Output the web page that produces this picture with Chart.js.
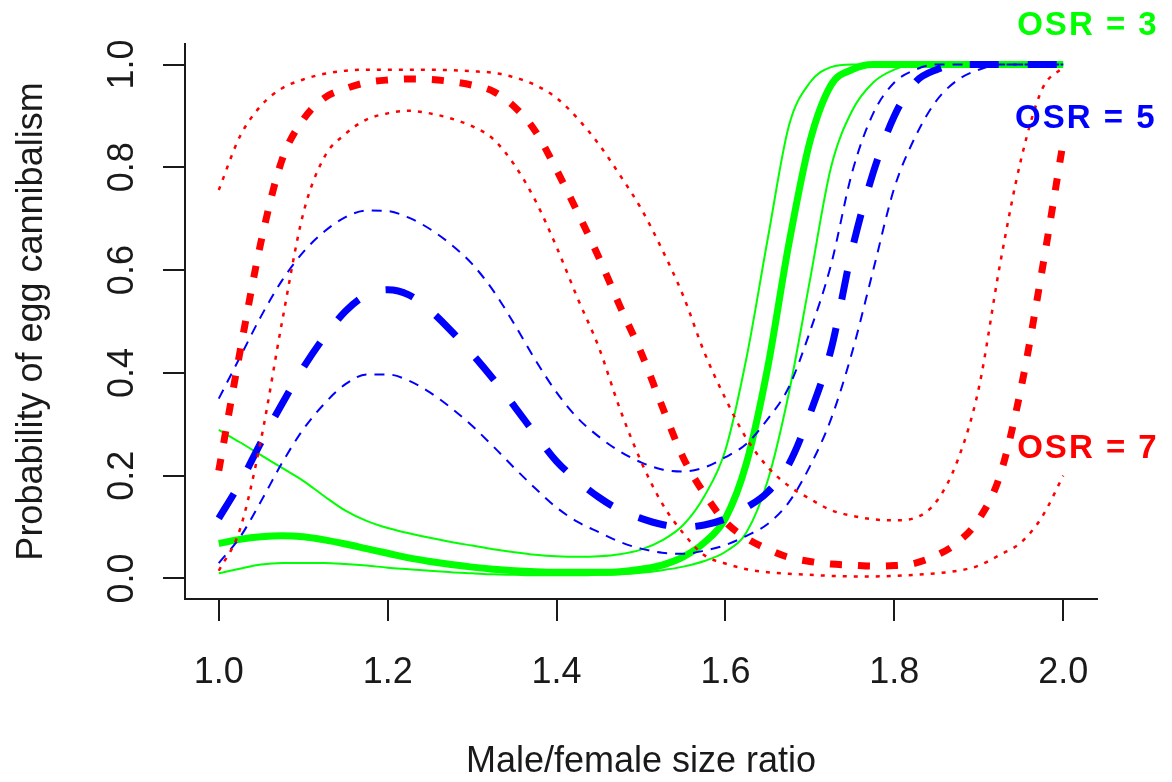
<!DOCTYPE html>
<html>
<head>
<meta charset="utf-8">
<script src="https://cdn.jsdelivr.net/npm/chart.js@4.4.1/dist/chart.umd.min.js"></script>
<style>
html,body{margin:0;padding:0;background:#ffffff;}
#wrap{width:1172px;height:782px;}
</style>
</head>
<body>
<div id="wrap"><canvas id="c" width="1172" height="782"></canvas></div>
<script>
// ---- data ----
const sizeRatio = [1.000,1.025,1.050,1.075,1.100,1.125,1.150,1.175,1.200,1.225,1.250,1.275,1.300,1.325,1.350,1.375,1.400,1.425,1.450,1.475,1.500,1.525,1.550,1.575,1.600,1.625,1.650,1.675,1.700,1.725,1.750,1.775,1.800,1.825,1.850,1.875,1.900,1.925,1.950,1.975,2.000];

// OSR = 3 (green): fitted mean and confidence limits
const osr3Mean  = [0.068,0.076,0.081,0.083,0.081,0.075,0.067,0.058,0.049,0.040,0.033,0.027,0.022,0.018,0.015,0.013,0.012,0.012,0.012,0.013,0.018,0.026,0.042,0.070,0.117,0.225,0.410,0.650,0.850,0.960,0.990,1.000,1.000,1.000,1.000,1.000,1.000,1.000,1.000,1.000,1.000];
const osr3Upper = [0.289,0.265,0.240,0.215,0.190,0.160,0.132,0.112,0.098,0.088,0.079,0.071,0.064,0.057,0.051,0.046,0.043,0.042,0.043,0.047,0.056,0.074,0.104,0.160,0.250,0.430,0.660,0.880,0.965,0.995,1.000,1.000,1.000,1.000,1.000,1.000,1.000,1.000,1.000,1.000,1.000];
const osr3Lower = [0.010,0.019,0.027,0.030,0.030,0.030,0.028,0.025,0.021,0.018,0.015,0.012,0.010,0.008,0.007,0.006,0.006,0.006,0.007,0.008,0.011,0.016,0.023,0.034,0.052,0.090,0.190,0.360,0.580,0.800,0.910,0.965,0.990,1.000,1.000,1.000,1.000,1.000,1.000,1.000,1.000];

// OSR = 5 (blue)
const osr5Mean  = [0.117,0.185,0.265,0.340,0.410,0.470,0.520,0.552,0.562,0.552,0.522,0.482,0.437,0.388,0.335,0.280,0.228,0.190,0.158,0.133,0.117,0.105,0.100,0.104,0.116,0.138,0.168,0.222,0.320,0.445,0.640,0.790,0.900,0.966,0.990,1.000,1.000,1.000,1.000,1.000,1.000];
const osr5Upper = [0.350,0.430,0.510,0.580,0.635,0.675,0.703,0.716,0.715,0.702,0.680,0.650,0.612,0.560,0.495,0.425,0.362,0.312,0.276,0.247,0.226,0.212,0.208,0.216,0.236,0.262,0.310,0.372,0.480,0.610,0.790,0.905,0.965,0.990,1.000,1.000,1.000,1.000,1.000,1.000,1.000];
const osr5Lower = [0.030,0.080,0.150,0.225,0.290,0.340,0.378,0.397,0.397,0.385,0.362,0.332,0.297,0.257,0.215,0.175,0.138,0.110,0.090,0.071,0.058,0.050,0.048,0.054,0.065,0.083,0.106,0.148,0.218,0.310,0.440,0.600,0.760,0.860,0.930,0.970,0.990,1.000,1.000,1.000,1.000];

// OSR = 7 (red)
const osr7Mean  = [0.210,0.440,0.655,0.815,0.893,0.935,0.953,0.965,0.970,0.972,0.971,0.967,0.960,0.948,0.918,0.870,0.795,0.712,0.625,0.530,0.440,0.335,0.235,0.165,0.110,0.078,0.057,0.041,0.033,0.028,0.026,0.024,0.025,0.030,0.045,0.070,0.115,0.200,0.370,0.600,0.850];
const osr7Upper = [0.756,0.860,0.920,0.954,0.971,0.982,0.988,0.990,0.990,0.990,0.990,0.989,0.987,0.984,0.975,0.960,0.935,0.895,0.845,0.785,0.720,0.640,0.550,0.440,0.350,0.272,0.217,0.180,0.155,0.133,0.122,0.115,0.113,0.118,0.150,0.230,0.370,0.610,0.815,0.952,0.995];
const osr7Lower = [0.015,0.095,0.270,0.500,0.710,0.820,0.865,0.893,0.905,0.910,0.905,0.895,0.880,0.855,0.805,0.735,0.645,0.545,0.450,0.330,0.228,0.146,0.088,0.045,0.029,0.018,0.012,0.009,0.007,0.005,0.004,0.004,0.005,0.007,0.010,0.015,0.025,0.046,0.070,0.120,0.200];

const xTickValues = [1.0,1.2,1.4,1.6,1.8,2.0];
const xTickLabels = ['1.0','1.2','1.4','1.6','1.8','2.0'];
const yTickValues = [0.0,0.2,0.4,0.6,0.8,1.0];
const yTickLabels = ['0.0','0.2','0.4','0.6','0.8','1.0'];
const osrLabels = ['OSR = 3','OSR = 5','OSR = 7'];

// ---- styles / layout ----
const GREEN = '#00ff00', BLUE = '#0000ff', RED = '#ff0000', INK = '#1a1a1a';
const FONT = '"Liberation Sans", Arial, Helvetica, sans-serif';
const osrAnchors = [ {x:1.9455, y:1.058}, {x:1.943, y:0.877}, {x:1.9455, y:0.2345} ];
const osrColors = [GREEN, BLUE, RED];

function pts(ys){ return sizeRatio.map((x,i)=>({x:x, y:ys[i]})); }
function ds(label, ys, color, width, dash, order){
  return {label, data: pts(ys), borderColor: color, borderWidth: width, borderDash: dash,
          borderCapStyle:'butt', borderJoinStyle:'round', pointRadius:0, fill:false,
          cubicInterpolationMode:'monotone', order};
}

const osrPlugin = {
  id:'osrText',
  afterDatasetsDraw(chart){
    const {ctx, scales:{x, y}} = chart;
    ctx.save();
    ctx.font = 'bold 33px ' + FONT;
    ctx.textAlign = 'left';
    ctx.textBaseline = 'alphabetic';
    try { ctx.letterSpacing = '2px'; } catch(e) {}
    osrLabels.forEach((t,i)=>{
      ctx.fillStyle = osrColors[i];
      ctx.fillText(t, x.getPixelForValue(osrAnchors[i].x), y.getPixelForValue(osrAnchors[i].y));
    });
    ctx.restore();
  }
};

new Chart(document.getElementById('c'), {
  type:'line',
  data:{ datasets:[
    ds('OSR 3 mean',  osr3Mean,  GREEN, 7,   [],      6),
    ds('OSR 3 upper', osr3Upper, GREEN, 2,   [],      7),
    ds('OSR 3 lower', osr3Lower, GREEN, 2,   [],      7),
    ds('OSR 5 mean',  osr5Mean,  BLUE,  7,   [29,29], 3),
    ds('OSR 5 upper', osr5Upper, BLUE,  2,   [10,8],  4),
    ds('OSR 5 lower', osr5Lower, BLUE,  2,   [10,8],  4),
    ds('OSR 7 mean',  osr7Mean,  RED,   7,   [12,16], 0),
    ds('OSR 7 upper', osr7Upper, RED,   2.5, [4,7],   1),
    ds('OSR 7 lower', osr7Lower, RED,   2.5, [4,7],   1)
  ]},
  options:{
    responsive:false, animation:false, devicePixelRatio:1,
    layout:{padding:{top:44, right:75, left:0, bottom:0}},
    plugins:{legend:{display:false}, tooltip:{enabled:false}},
    scales:{
      x:{
        type:'linear', min:0.96, max:2.04,
        afterBuildTicks:(s)=>{ s.ticks = xTickValues.map(v=>({value:v})); },
        afterFit:(s)=>{ s.height = 183; },
        ticks:{ callback:(v)=>xTickLabels[xTickValues.findIndex(t=>Math.abs(t-v)<1e-9)],
                font:{family:FONT, size:36}, color:INK, padding:30, autoSkip:false, maxRotation:0, minRotation:0 },
        grid:{ drawOnChartArea:false, drawTicks:true, tickLength:22, color:INK, lineWidth:2 },
        border:{ display:true, color:INK, width:2 },
        title:{ display:true, text:'Male/female size ratio', color:INK,
                font:{family:FONT, size:36, lineHeight:1}, padding:{top:0, bottom:2} }
      },
      y:{
        type:'linear', min:-0.04, max:1.04,
        afterBuildTicks:(s)=>{ s.ticks = yTickValues.map(v=>({value:v})); },
        afterFit:(s)=>{ s.width = 185; },
        ticks:{ callback:(v)=>yTickLabels[yTickValues.findIndex(t=>Math.abs(t-v)<1e-9)],
                font:{family:FONT, size:36}, color:INK, padding:15, autoSkip:false,
                minRotation:90, maxRotation:90, crossAlign:'center' },
        grid:{ drawOnChartArea:false, drawTicks:true, tickLength:22, color:INK, lineWidth:2 },
        border:{ display:true, color:INK, width:2 },
        title:{ display:true, text:'Probability of egg cannibalism', color:INK,
                font:{family:FONT, size:36, lineHeight:1}, padding:{top:14, bottom:0} }
      }
    }
  },
  plugins:[osrPlugin]
});
</script>
</body>
</html>
